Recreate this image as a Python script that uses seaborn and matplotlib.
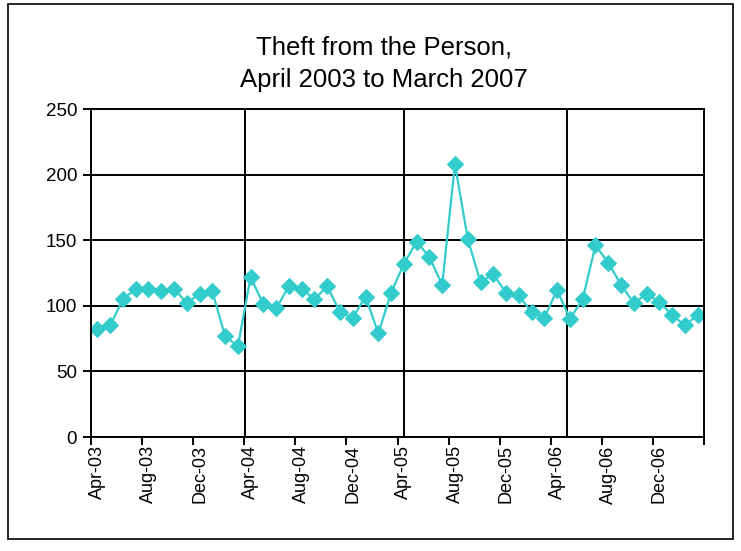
import numpy as np
import pandas as pd
import matplotlib
matplotlib.use("Agg")
import matplotlib.pyplot as plt
import seaborn as sns
from matplotlib.patches import Rectangle

# ---- data ----
months = pd.date_range("2003-04-01", "2007-03-01", freq="MS").strftime("%b-%y").tolist()
values = [82, 85, 105, 113, 113, 111, 113, 102, 109, 111, 77, 69,
          122, 101, 98, 115, 113, 105, 115, 95, 91, 107, 79, 110,
          132, 149, 137, 116, 208, 151, 118, 124, 110, 108, 95, 91,
          112, 90, 105, 146, 133, 116, 102, 109, 103, 93, 85, 93]
year_marks = [12.06, 24.5, 37.3]   # separator lines (category units)
y_ticks = [0, 50, 100, 150, 200, 250]
title = "Theft from the Person,\nApril 2003 to March 2007"

df = pd.DataFrame({"month": months, "value": values})
df["pos"] = np.arange(len(df)) + 0.5

sns.set_style("white")
plt.rcParams["font.family"] = ["Liberation Sans", "DejaVu Sans"]
plt.rcParams["text.color"] = "black"
plt.rcParams["xtick.color"] = "black"
plt.rcParams["ytick.color"] = "black"
plt.rcParams["xtick.labelcolor"] = "black"
plt.rcParams["ytick.labelcolor"] = "black"

W, H = 741, 551
fig = plt.figure(figsize=(W / 100, H / 100), dpi=100)
ax = fig.add_axes([91 / W, 1 - 437 / H, (704 - 91) / W, (437 - 109) / H])

color = "#33CCCC"
sns.lineplot(data=df, x="pos", y="value", ax=ax, color=color, lw=1.6,
             marker="D", markersize=8, markeredgecolor=color,
             markerfacecolor=color)

ax.set_xlim(0, len(values))
ax.set_ylim(0, 250)
ax.set_yticks(y_ticks)
ax.set_yticklabels([str(v) for v in y_ticks], fontsize=13.5)
ax.yaxis.grid(True, color="black", lw=1.4)
ax.xaxis.grid(False)
for v in year_marks:
    ax.axvline(v, color="black", lw=1.4, zorder=1)

ax.set_xticks(np.arange(0, len(values) + 1, 4))
ax.set_xticklabels([])
ax.set_xticks(np.arange(0, len(values), 4) + 0.5, minor=True)
ax.set_xticklabels(months[::4], minor=True, rotation=90, fontsize=13)
ax.tick_params(axis="x", which="major", length=6, width=1.4, color="black", direction="out", bottom=True)
ax.tick_params(axis="x", which="minor", length=0, pad=6)
ax.tick_params(axis="y", length=6, width=1.4, color="black", direction="out", left=True, pad=4)
ax.set_xlabel("")
ax.set_ylabel("")
for s in ax.spines.values():
    s.set_color("black")
    s.set_linewidth(1.4)

fig.text(384 / W, 1 - 64 / H, title, ha="center", va="center", fontsize=18.5,
         linespacing=1.45, color="black")

fig.patches.append(Rectangle((8 / W, 12 / H), (733 - 8) / W, (547 - 12) / H,
                             transform=fig.transFigure, fill=False, ec="black", lw=1.2))

fig.savefig("out.png", dpi=100)
